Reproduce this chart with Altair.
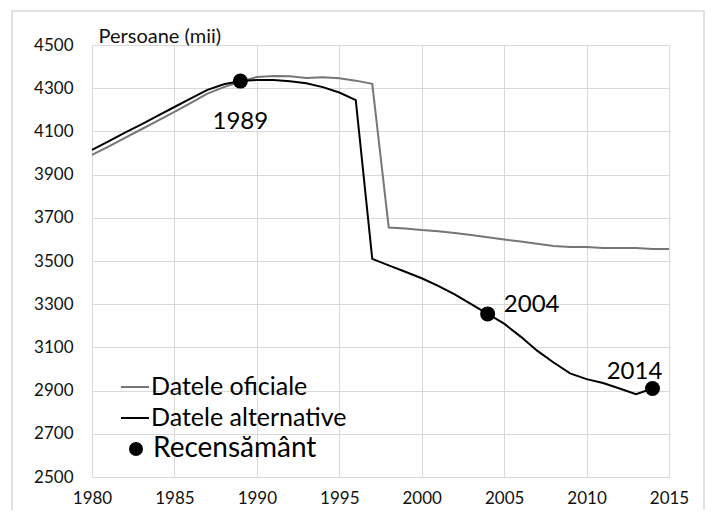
import altair as alt
import pandas as pd

years_off = list(range(1980, 2016))
official = [3991, 4030, 4070, 4110, 4150, 4190, 4232, 4275, 4305, 4330,
            4352, 4357, 4355, 4347, 4351, 4346, 4335, 4320, 3655, 3650,
            3643, 3638, 3630, 3620, 3610, 3600, 3590, 3580, 3570, 3565,
            3565, 3560, 3560, 3560, 3555, 3555]
years_alt = list(range(1980, 2015))
alternative = [4014, 4054, 4094, 4133, 4173, 4213, 4253, 4292, 4318, 4333,
               4338, 4338, 4332, 4323, 4305, 4280, 4245, 3510, 3480, 3450,
               3420, 3385, 3345, 3300, 3255, 3210, 3150, 3085, 3030, 2980,
               2953, 2935, 2910, 2883, 2910]
census_years = [1989, 2004, 2014]
census_values = [4333, 3255, 2910]
census_labels = ["1989", "2004", "2014"]
series_names = ["Datele oficiale", "Datele alternative"]
census_name = "Recensământ"
x_ticks = [1980, 1985, 1990, 1995, 2000, 2005, 2010, 2015]
y_ticks = [2500, 2700, 2900, 3100, 3300, 3500, 3700, 3900, 4100, 4300, 4500]

FONT = "Lato"

lines_df = pd.concat([
    pd.DataFrame({"year": years_off, "value": official, "series": series_names[0]}),
    pd.DataFrame({"year": years_alt, "value": alternative, "series": series_names[1]}),
])
census_df = pd.DataFrame({"year": census_years, "value": census_values,
                          "label": census_labels, "kind": census_name})

x_enc = alt.X("year:Q", scale=alt.Scale(domain=[1980, 2015], nice=False),
              axis=alt.Axis(values=x_ticks, format="d", title=None, grid=True,
                            domain=False, ticks=False, labelPadding=13,
                            labelFontSize=17, labelFont=FONT, labelColor="#111",
                            gridColor="#d9d9d9", labelFlush=False))
y_enc = alt.Y("value:Q", scale=alt.Scale(domain=[2500, 4500], nice=False),
              axis=alt.Axis(values=y_ticks, format="d", title="Persoane (mii)", grid=True,
                            domain=False, ticks=False, labelPadding=19,
                            labelFontSize=17, labelFont=FONT, labelColor="#111",
                            gridColor="#d9d9d9", titleAngle=0, titleAlign="left",
                            titleBaseline="middle", titleX=6, titleY=-9,
                            titleFontSize=20, titleFont=FONT, titleFontWeight="normal",
                            titleColor="#111"))

border = alt.Chart(pd.DataFrame({"a": [0]})).mark_rect(
    fill="transparent", stroke="#d9d9d9", strokeWidth=1.5, clip=False
).encode(x=alt.value(-80), x2=alt.value(612), y=alt.value(-34), y2=alt.value(470))

lines = alt.Chart(lines_df).mark_line(strokeWidth=2).encode(
    x=x_enc, y=y_enc,
    color=alt.Color("series:N",
                    scale=alt.Scale(domain=series_names, range=["#767676", "#000000"]),
                    legend=alt.Legend(orient="none", legendX=28, legendY=327, title=None,
                                      symbolType="stroke", symbolSize=784,
                                      symbolStrokeWidth=2, labelFontSize=25,
                                      labelFont=FONT, labelColor="#000", labelOffset=1,
                                      labelLimit=400, rowPadding=3, padding=0)),
    detail="series:N",
)

points = alt.Chart(census_df).mark_point(filled=True, color="black", size=225, opacity=1).encode(
    x="year:Q", y="value:Q",
    shape=alt.Shape("kind:N", scale=alt.Scale(domain=[census_name], range=["circle"]),
                    legend=alt.Legend(orient="none", legendX=30, legendY=390, title=None,
                                      symbolSize=196, symbolFillColor="black",
                                      symbolStrokeColor="black", labelFontSize=28,
                                      labelFont=FONT, labelColor="#000", labelOffset=3,
                                      labelLimit=400, padding=0)),
)

base_text = alt.Chart(census_df)
offsets = {"1989": (0, 41), "2004": (44, -9), "2014": (-18, -16)}
texts = []
for lab in census_labels:
    dx, dy = offsets[lab]
    texts.append(base_text.transform_filter(alt.datum.label == lab).mark_text(
        fontSize=24, font=FONT, color="#000", dx=dx, dy=dy, baseline="middle", align="center"
    ).encode(x="year:Q", y="value:Q", text="label:N"))

chart = alt.layer(border, lines, points, *texts).properties(
    width=577, height=432,
    autosize=alt.AutoSizeParams(type="none"),
    padding={"left": 84, "top": 37, "right": 36, "bottom": 33},
).configure_view(stroke=None).resolve_scale(color="independent", shape="independent")

chart.save("out.html", embed_options={"renderer": "svg", "actions": False})
